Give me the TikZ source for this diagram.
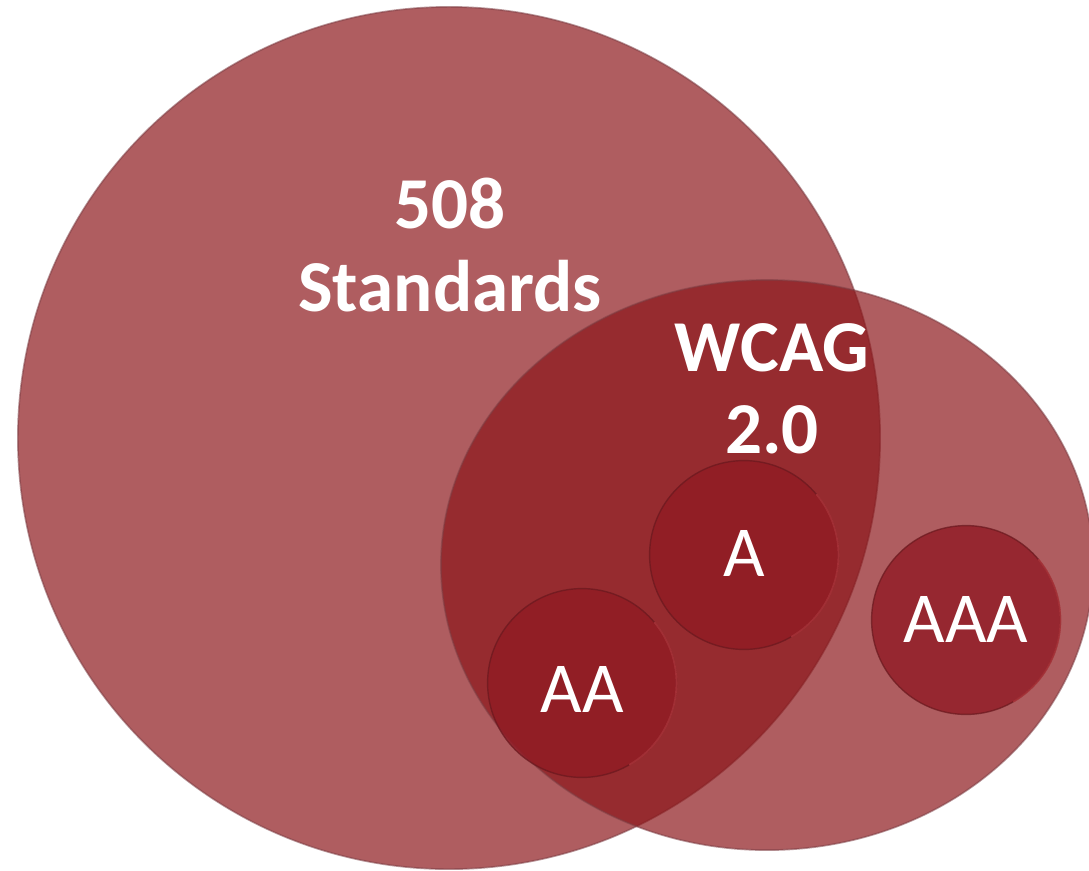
\documentclass[tikz,border=0pt]{standalone}
\usepackage{fontspec}
\setmainfont{Carlito}
\usetikzlibrary{shapes, positioning}
\definecolor{SetRed}{RGB}{139,21,25}
\definecolor{SetEdge}{RGB}{125,62,68}
\definecolor{LevelRed}{RGB}{144,26,36}
\definecolor{LevelEdge}{RGB}{105,24,30}
\definecolor{LevelRim}{RGB}{190,60,66}

\tikzset{
  setarea/.style={fill=SetRed, fill opacity=0.69, draw=SetEdge, draw opacity=0.55, line width=1.2pt, inner sep=0pt, outer sep=0pt},
  levelarea/.style={circle, minimum size=4.72cm, fill=LevelRed, fill opacity=0.8, draw=LevelEdge, draw opacity=0.7, line width=1pt, inner sep=0pt, outer sep=0pt},
  bigtext/.style={text=white, font=\fontsize{52}{62}\selectfont\bfseries, anchor=base},
  leveltext/.style={text=white, font=\fontsize{51}{61}\selectfont, anchor=base}
}

\begin{document}
\begin{tikzpicture}[x=0.025cm, y=-0.025cm]
\useasboundingbox (0,0) rectangle (1089,870);
% sets
\node[setarea, circle, minimum size=21.55cm] (S508) at (449,438) {};
\node[setarea, ellipse, minimum width=16.3cm, minimum height=14.25cm] (WCAG) at (767,565) {};
% conformance levels
\node[levelarea] (LA) at (744,555) {};
\node[levelarea] (LAA) at (582,683) {};
\node[levelarea] (LAAA) at (966,620) {};
\draw[LevelRim, line width=1.2pt, opacity=0.6] (LA.-60) arc (-60:40:2.36cm);
\draw[LevelRim, line width=1.2pt, opacity=0.6] (LAA.-60) arc (-60:40:2.36cm);
\draw[LevelRim, line width=1.2pt, opacity=0.6] (LAAA.-60) arc (-60:40:2.36cm);
% labels
\node[bigtext] (T508) at (450,228) {508};
\node[bigtext] (TStd) at (450,311) {Standards};
\node[bigtext] (TWCAG) at (772,371) {WCAG};
\node[bigtext] (TVer) at (772,453) {2.0};
\node[leveltext] (TA) at (744,576) {A};
\node[leveltext] (TAA) at (582,712) {AA};
\node[leveltext] (TAAA) at (966,642) {AAA};
\end{tikzpicture}
\end{document}
